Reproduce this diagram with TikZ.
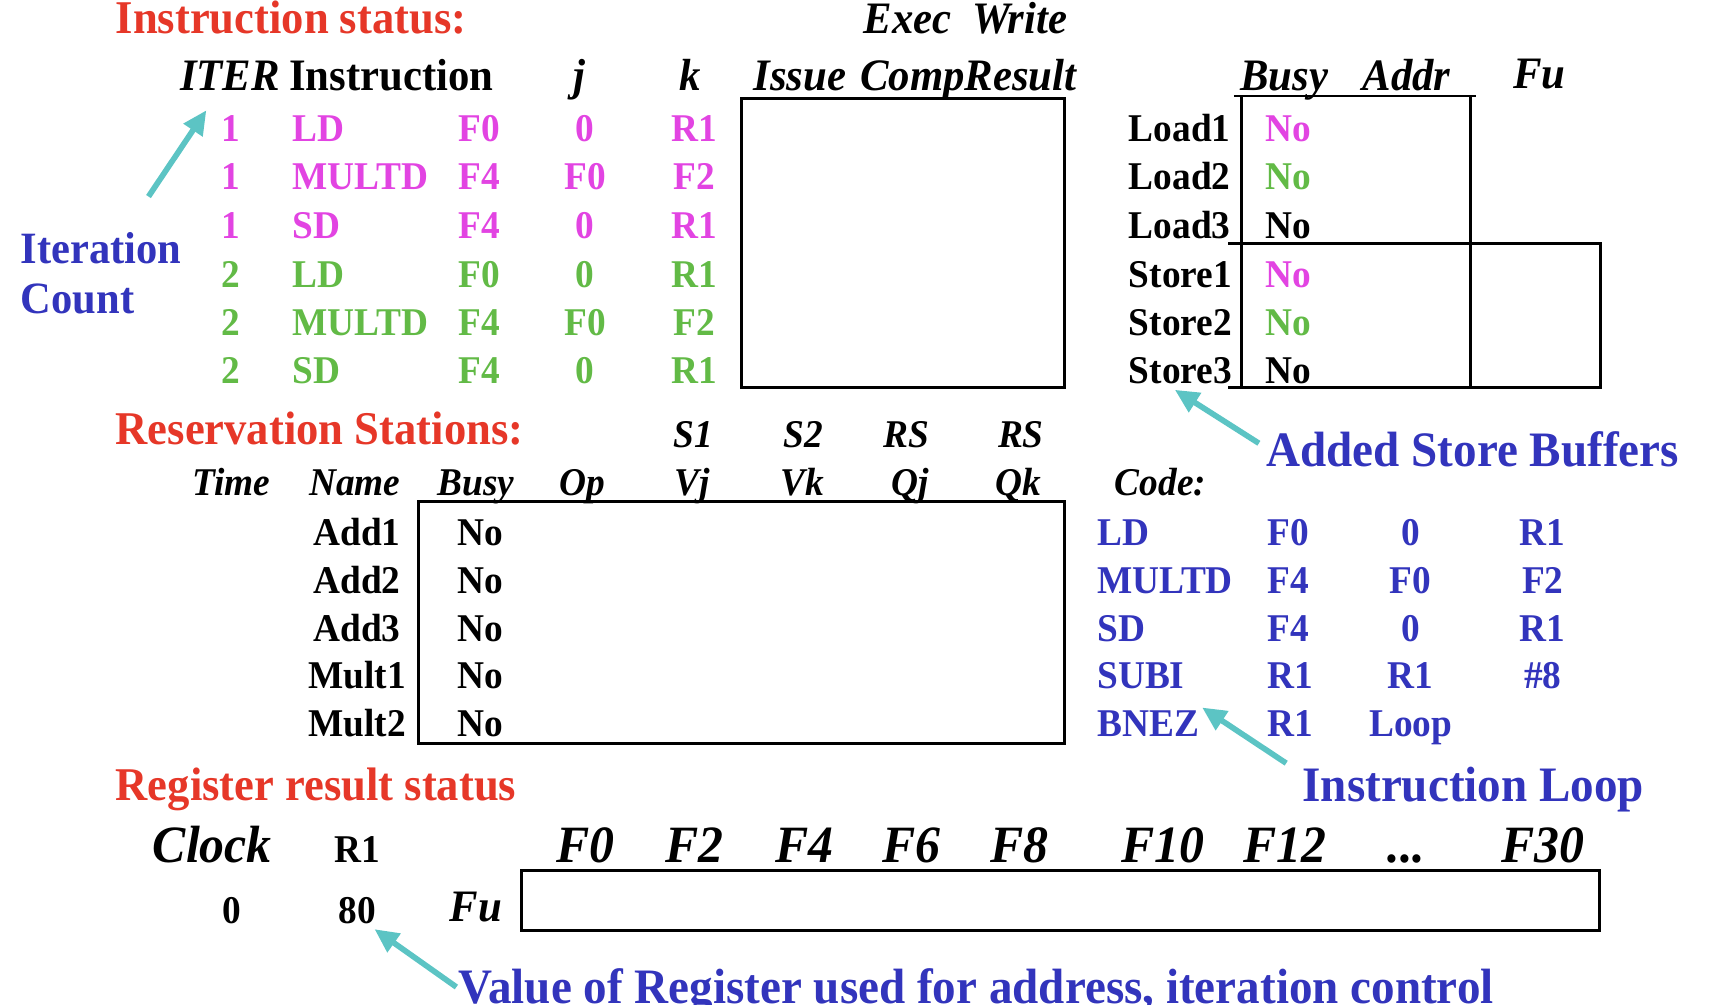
\documentclass[tikz,border=0pt]{standalone}
\usepackage{fontspec}
\setmainfont{Liberation Serif}[FakeStretch=0.95]
\usetikzlibrary{arrows.meta}
\definecolor{tred}{RGB}{230,55,40}
\definecolor{tmag}{RGB}{226,68,226}
\definecolor{tgrn}{RGB}{98,186,70}
\definecolor{tblue}{RGB}{50,52,188}
\definecolor{tteal}{RGB}{92,196,196}
\begin{document}
\begin{tikzpicture}[x=0.5pt,y=-0.5pt,
  txt/.style={inner sep=0pt, outer sep=0pt, font=\fontsize{18}{18}\selectfont\bfseries},
  hds/.style={inner sep=0pt, outer sep=0pt, font=\fontsize{18}{18}\selectfont\bfseries\itshape},
  hd/.style={inner sep=0pt, outer sep=0pt, font=\fontsize{20.6}{20.6}\selectfont\bfseries\itshape},
  hdu/.style={inner sep=0pt, outer sep=0pt, font=\fontsize{20.6}{20.6}\selectfont\bfseries},
  big/.style={inner sep=0pt, outer sep=0pt, font=\fontsize{24}{24}\selectfont\bfseries\itshape},
  ttl/.style={inner sep=0pt, outer sep=0pt, text=tred, font=\fontsize{21.5}{21.5}\selectfont\bfseries},
  note/.style={inner sep=0pt, outer sep=0pt, text=tblue, font=\fontsize{22.7}{22.7}\selectfont\bfseries},
  notes/.style={inner sep=0pt, outer sep=0pt, text=tblue, font=\fontsize{20.5}{20.5}\selectfont\bfseries},
  frame/.style={line width=1.3pt},
  pointer/.style={draw=tteal, line width=2.6pt, -{Triangle[length=11pt,width=10pt]}},
]
\useasboundingbox (0,0) rectangle (1568,919.6);

% ---------------- Instruction status ----------------
\node[ttl, anchor=base west] (tinstr) at (106,31) {Instruction status:};
\node[hd, anchor=base west] (hexec) at (791,31) {Exec};
\node[hd, anchor=base west] (hwrite) at (891,31) {Write};
\node[hd, anchor=base west] (hiter) at (165,83) {ITER};
\node[hdu, anchor=base west] (hins) at (265,83) {Instruction};
\node[hd, anchor=base] (hj) at (531,83) {j};
\node[hd, anchor=base] (hk) at (632,83) {k};
\node[hd, anchor=base west] (hissue) at (690,83) {Issue};
\node[hd, anchor=base west] (hcomp) at (788,83) {CompResult};
\draw[frame] (679,90) rectangle (975,355);

\foreach \r/\y/\n/\op/\d/\j/\k/\c in {
  1/130/1/LD/F0/0/R1/tmag,
  2/174/1/MULTD/F4/F0/F2/tmag,
  3/218/1/SD/F4/0/R1/tmag,
  4/263/2/LD/F0/0/R1/tgrn,
  5/307/2/MULTD/F4/F0/F2/tgrn,
  6/351/2/SD/F4/0/R1/tgrn}{
  \node[txt, text=\c, anchor=base] (it\r) at (211.5,\y) {\n};
  \node[txt, text=\c, anchor=base west] (op\r) at (268,\y) {\op};
  \node[txt, text=\c, anchor=base west] (dd\r) at (420,\y) {\d};
  \node[txt, text=\c, anchor=base] (jj\r) at (536,\y) {\j};
  \node[txt, text=\c, anchor=base] (kk\r) at (636,\y) {\k};
}

\node[notes, anchor=base west] (niter) at (19,241) {Iteration};
\node[notes, anchor=base west] (ncount) at (19,287) {Count};
\coordinate (aitail) at (136,180);
\coordinate (aitip) at (189,101);
\draw[pointer] (aitail) -- (aitip);

% ---------------- Load / Store buffers ----------------
\node[hd, anchor=base west] (hbusy) at (1136,83) {Busy};
\node[hd, anchor=base west] (haddr) at (1248,83) {Addr};
\node[hd, anchor=base west] (hfu) at (1386,81) {Fu};
\draw[frame] (1130,88) -- (1352,88);
\draw[frame] (1137,88) -- (1137,355);
\draw[frame] (1347,88) -- (1347,355);
\draw[frame] (1125,223) -- (1466,223) -- (1466,355) -- (1125,355);

\foreach \r/\y/\n/\c in {
  1/130/Load1/tmag, 2/174/Load2/tgrn, 3/218/Load3/black,
  4/263/Store1/tmag, 5/307/Store2/tgrn, 6/351/Store3/black}{
  \node[txt, anchor=base west] (buf\r) at (1034,\y) {\n};
  \node[txt, text=\c, anchor=base west] (bno\r) at (1159,\y) {No};
}

\coordinate (astail) at (1153,406);
\coordinate (astip) at (1076,357);
\draw[pointer] (astail) -- (astip);
\node[note, anchor=base west] (nstore) at (1160,427) {Added Store Buffers};

% ---------------- Reservation stations ----------------
\node[ttl, anchor=base west] (tres) at (106,407) {Reservation Stations:};
\node[hds, anchor=base] (hs1) at (635,410) {S1};
\node[hds, anchor=base] (hs2) at (736,410) {S2};
\node[hds, anchor=base] (hrs1) at (830,410) {RS};
\node[hds, anchor=base] (hrs2) at (935,410) {RS};
\node[hds, anchor=base] (htime) at (212,454) {Time};
\node[hds, anchor=base] (hname) at (325,454) {Name};
\node[hds, anchor=base] (hbusy2) at (436,454) {Busy};
\node[hds, anchor=base] (hop) at (533,454) {Op};
\node[hds, anchor=base] (hvj) at (634,454) {Vj};
\node[hds, anchor=base] (hvk) at (735,454) {Vk};
\node[hds, anchor=base] (hqj) at (834,454) {Qj};
\node[hds, anchor=base] (hqk) at (933,454) {Qk};
\node[hds, anchor=base west] (hcode) at (1021,454) {Code:};
\draw[frame] (383,459) rectangle (975,681);

\foreach \r/\y/\n in {1/500/Add1, 2/544/Add2, 3/587.5/Add3, 4/631/Mult1, 5/675/Mult2}{
  \node[txt, anchor=base] (rs\r) at (327,\y) {\n};
  \node[txt, anchor=base west] (rno\r) at (419,\y) {No};
}

\foreach \r/\y/\a/\b/\cc/\d in {
  1/500/LD/F0/0/R1,
  2/544/MULTD/F4/F0/F2,
  3/587.5/SD/F4/0/R1,
  4/631/SUBI/R1/R1/\#8,
  5/675/BNEZ/R1/Loop/{}}{
  \node[txt, text=tblue, anchor=base west] (ca\r) at (1005,\y) {\a};
  \node[txt, text=tblue, anchor=base west] (cb\r) at (1161,\y) {\b};
  \node[txt, text=tblue, anchor=base] (cc\r) at (1292,\y) {\cc};
  \node[txt, text=tblue, anchor=base] (cd\r) at (1413,\y) {\d};
}

\coordinate (altail) at (1178,699);
\coordinate (altip) at (1101,648);
\draw[pointer] (altail) -- (altip);
\node[note, anchor=base west] (nloop) at (1193,734) {Instruction Loop};

% ---------------- Register result status ----------------
\node[ttl, anchor=base west] (treg) at (106,733) {Register result status};
\node[big, anchor=base west] (hclock) at (140,789.5) {Clock};
\node[txt, anchor=base] (hr1) at (327,789.5) {R1};
\foreach \nm/\x/\t in {f0/536.5/F0, f2/636/F2, f4/736.5/F4, f6/835/F6, f8/933.5/F8,
  f10/1065/F10, f12/1176.5/F12, f30/1413/F30}{
  \node[big, anchor=base] (\nm) at (\x,789.5) {\t};
}
\node[big, anchor=base] (fdots) at (1288,789.5) {...};
\node[txt, anchor=base] (vclock) at (212.5,846) {0};
\node[txt, anchor=base] (vr1) at (327.5,846) {80};
\node[hd, anchor=base west] (hfu2) at (412,844) {Fu};
\draw[line width=1.4pt] (478,797) rectangle (1465,852);

\coordinate (avtail) at (418,904);
\coordinate (avtip) at (343,851);
\draw[pointer] (avtail) -- (avtip);
\node[note, anchor=base west] (nvalue) at (420,919) {Value of Register used for address, iteration control};
\end{tikzpicture}
\end{document}
